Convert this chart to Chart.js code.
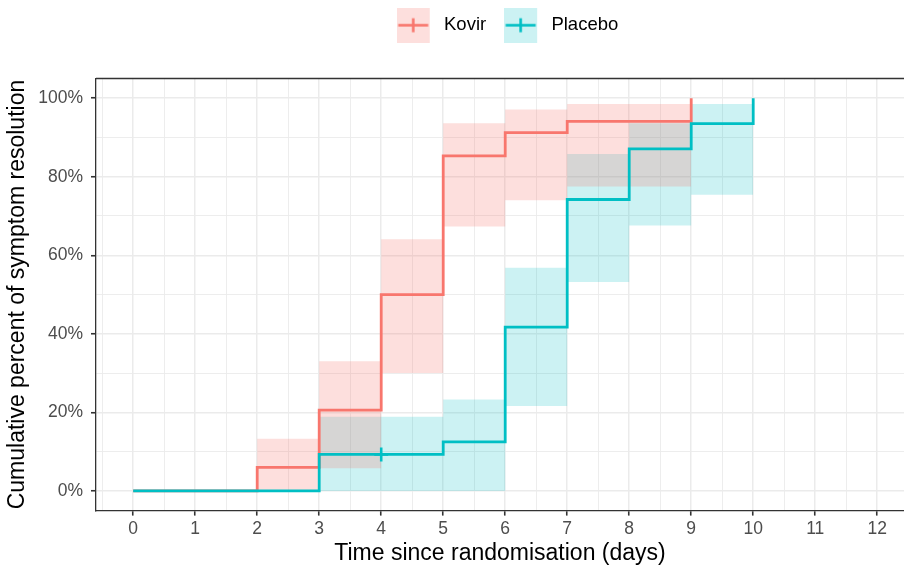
<!DOCTYPE html>
<html>
<head>
<meta charset="utf-8">
<script src="https://cdn.jsdelivr.net/npm/chart.js@4.4.1/dist/chart.umd.min.js"></script>
<style>
html,body{margin:0;padding:0;background:#ffffff;}
#wrap{width:904px;height:569px;}
</style>
</head>
<body>
<div id="wrap"><canvas id="c" width="904" height="569"></canvas></div>
<script>
// ---- data ----
const groupNames = ['Kovir', 'Placebo'];

const kovirTime  = [0, 2, 3, 4, 5, 6, 7, 9];
const kovirEst   = [0, 6.0, 20.6, 50.0, 85.3, 91.2, 94.1, 100];
const kovirUpper = [0, 13.3, 33.0, 64.1, 93.6, 97.1, 98.5, 98.5];
const kovirLower = [0, 0, 5.8, 30.0, 67.3, 74.0, 77.5, 77.5];

const placeboTime  = [0, 3, 5, 6, 7, 8, 9, 10];
const placeboEst   = [0, 9.3, 12.5, 41.7, 74.2, 87.1, 93.5, 100];
const placeboUpper = [0, 18.9, 23.3, 56.8, 85.8, 93.6, 98.5, 98.5];
const placeboLower = [0, 0, 0, 21.6, 53.2, 67.6, 75.4, 75.4];

const censorTime  = [4];
const censorValue = [9.3];

const xMajorTicks = [0, 1, 2, 3, 4, 5, 6, 7, 8, 9, 10, 11, 12];
const xMinorTicks = [-0.5, 0.5, 1.5, 2.5, 3.5, 4.5, 5.5, 6.5, 7.5, 8.5, 9.5, 10.5, 11.5];
const yMajorTicks = [0, 20, 40, 60, 80, 100];
const yMinorTicks = [10, 30, 50, 70, 90];

const xTitle = 'Time since randomisation (days)';
const yTitle = 'Cumulative percent of symptom resolution';

// ---- styling ----
const colK = '#F8766D', colP = '#00BFC4';
const fillK = 'rgba(248,118,109,0.23)', fillP = 'rgba(0,191,196,0.2)';
const FONT = "'Liberation Sans', Arial, Helvetica, sans-serif";

function pts(xs, ys) { return xs.map((x, i) => ({x: x, y: ys[i]})); }

function makeKey(color, fill) {
  const c = document.createElement('canvas');
  c.width = 38; c.height = 35;
  const g = c.getContext('2d');
  g.fillStyle = '#ffffff'; g.fillRect(0, 0, 33, 35);
  g.fillStyle = fill; g.fillRect(0, 0, 33, 35);
  g.strokeStyle = color; g.lineWidth = 2.6;
  g.beginPath(); g.moveTo(1.5, 17.5); g.lineTo(31.5, 17.5); g.stroke();
  g.beginPath(); g.moveTo(16.5, 10.5); g.lineTo(16.5, 24.5); g.stroke();
  return c;
}
const keyK = makeKey(colK, fillK);
const keyP = makeKey(colP, fillP);

const isMajorX = v => xMajorTicks.indexOf(v) >= 0;
const isMajorY = v => yMajorTicks.indexOf(v) >= 0;

const layoutTweak = {
  id: 'layoutTweak',
  beforeLayout(chart) {
    const lg = chart.legend;
    if (lg && !lg._tweaked) {
      const f = lg.fit;
      lg.fit = function () { f.call(this); this.height = 78.5; };
      lg._tweaked = true;
    }
  },
  afterLayout(chart) {
    const lg = chart.legend;
    if (lg) {
      lg.left = 99; lg.right = 916;
      lg.top = -2;
    }
  },
  afterDatasetsDraw(chart) {
    const a = chart.chartArea, ctx = chart.ctx;
    ctx.save();
    ctx.strokeStyle = '#333333';
    ctx.lineWidth = 1.3;
    ctx.beginPath();
    ctx.moveTo(a.left, a.top);
    ctx.lineTo(a.right + 2, a.top);
    ctx.stroke();
    ctx.restore();
  }
};

new Chart(document.getElementById('c'), {
  type: 'line',
  data: {
    datasets: [
      { label: 'censor', data: pts(censorTime, censorValue), showLine: false,
        pointStyle: 'cross', pointRadius: 7, pointBorderWidth: 2.6,
        pointBorderColor: colP, borderColor: colP, backgroundColor: colP },
      { label: groupNames[1], data: pts(placeboTime, placeboEst), stepped: 'before',
        borderColor: colP, borderWidth: 2.8, pointRadius: 0, fill: false },
      { label: groupNames[0], data: pts(kovirTime, kovirEst), stepped: 'before',
        borderColor: colK, borderWidth: 2.8, pointRadius: 0, fill: false },
      { label: 'kU', data: pts(kovirTime, kovirUpper), stepped: 'before',
        borderWidth: 0, borderColor: 'rgba(0,0,0,0)', pointRadius: 0, fill: false },
      { label: 'kL', data: pts(kovirTime, kovirLower), stepped: 'before',
        borderWidth: 0, borderColor: 'rgba(0,0,0,0)', pointRadius: 0,
        fill: 3, backgroundColor: fillK },
      { label: 'pU', data: pts(placeboTime, placeboUpper), stepped: 'before',
        borderWidth: 0, borderColor: 'rgba(0,0,0,0)', pointRadius: 0, fill: false },
      { label: 'pL', data: pts(placeboTime, placeboLower), stepped: 'before',
        borderWidth: 0, borderColor: 'rgba(0,0,0,0)', pointRadius: 0,
        fill: 5, backgroundColor: fillP }
    ]
  },
  options: {
    responsive: false,
    animation: false,
    devicePixelRatio: 1,
    layout: { autoPadding: false, padding: { left: 0, right: 0, top: 0, bottom: 0 } },
    plugins: {
      filler: { drawTime: 'beforeDatasetsDraw' },
      tooltip: { enabled: false },
      legend: {
        position: 'top',
        align: 'center',
        labels: {
          usePointStyle: true,
          pointStyleWidth: 38,
          padding: 18,
          color: '#000000',
          font: { family: FONT, size: 18.5 },
          generateLabels: () => [
            { text: groupNames[0], pointStyle: keyK, fillStyle: fillK, strokeStyle: colK,
              lineWidth: 0, fontColor: '#000000', hidden: false, datasetIndex: 2 },
            { text: groupNames[1], pointStyle: keyP, fillStyle: fillP, strokeStyle: colP,
              lineWidth: 0, fontColor: '#000000', hidden: false, datasetIndex: 1 }
          ]
        }
      }
    },
    scales: {
      x: {
        type: 'linear',
        min: -0.6,
        max: 12.432,
        afterBuildTicks: s => { s.ticks = xMinorTicks.concat(xMajorTicks).sort((a, b) => a - b).map(v => ({value: v})); },
        afterFit: s => { s.height = 58.4; s.paddingLeft = 0; s.paddingRight = 0; },
        ticks: {
          autoSkip: false, maxRotation: 0, minRotation: 0, padding: 3,
          color: '#4D4D4D', font: { family: FONT, size: 17.5 },
          callback: v => isMajorX(v) ? String(v) : ''
        },
        grid: {
          color: '#EBEBEB',
          lineWidth: c => (c.tick && isMajorX(c.tick.value)) ? 1.5 : 0.9,
          tickColor: c => (c.tick && isMajorX(c.tick.value)) ? '#333333' : 'rgba(0,0,0,0)',
          tickWidth: 1.6,
          tickLength: 5
        },
        border: { color: '#333333', width: 1.3 },
        title: {
          display: true, text: xTitle, color: '#000000',
          font: { family: FONT, size: 23 },
          padding: { top: 0, bottom: 1.5 }
        }
      },
      y: {
        type: 'linear',
        min: -5,
        max: 105,
        afterBuildTicks: s => { s.ticks = yMinorTicks.concat(yMajorTicks).sort((a, b) => a - b).map(v => ({value: v})); },
        afterFit: s => { s.width = 96; s.paddingTop = 0; s.paddingBottom = 0; },
        ticks: {
          autoSkip: false, padding: 8,
          color: '#4D4D4D', font: { family: FONT, size: 17.5 },
          callback: v => isMajorY(v) ? v + '%' : ''
        },
        grid: {
          color: '#EBEBEB',
          lineWidth: c => (c.tick && isMajorY(c.tick.value)) ? 1.5 : 0.9,
          tickColor: c => (c.tick && isMajorY(c.tick.value)) ? '#333333' : 'rgba(0,0,0,0)',
          tickWidth: 1.6,
          tickLength: 5
        },
        border: { color: '#333333', width: 1.3 },
        title: {
          display: true, text: yTitle, color: '#000000',
          font: { family: FONT, size: 23 },
          padding: { top: 4, bottom: 0 }
        }
      }
    }
  },
  plugins: [layoutTweak]
});
</script>
</body>
</html>
